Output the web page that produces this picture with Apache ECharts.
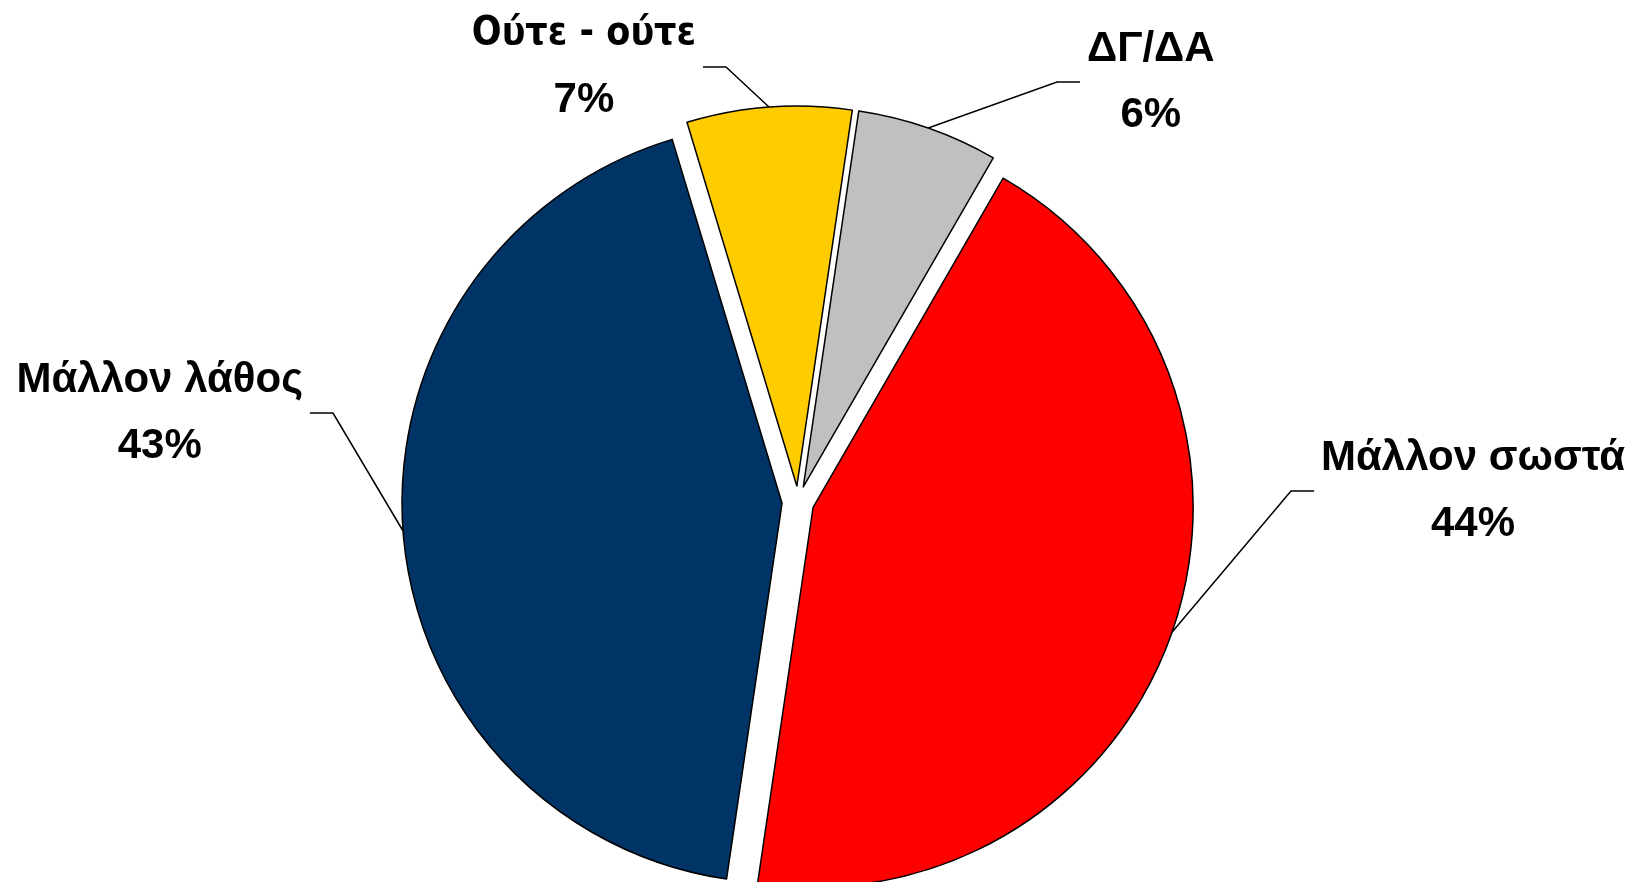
<!DOCTYPE html>
<html>
<head>
<meta charset="utf-8">
<script src="https://cdn.jsdelivr.net/npm/echarts@6/dist/echarts.min.js"></script>
<style>
  html, body { margin: 0; padding: 0; background: #fff; }
  #chart { width: 1637px; height: 882px; }
</style>
</head>
<body>
<div id="chart"></div>
<script>
const categories = ['Μάλλον σωστά', 'Μάλλον λάθος', 'Ούτε - ούτε', 'ΔΓ/ΔΑ'];
const shares = [44, 43, 7, 6];
const colors = ['#ff0000', '#003366', '#ffcc00', '#c0c0c0'];

// end of each leader line (x, y) and on which side of it the label sits
const labelSpots = [
  { x: 1314, y: 491, side: 'right' },
  { x: 310, y: 413, side: 'left' },
  { x: 703, y: 67, side: 'left' },
  { x: 1080, y: 82, side: 'right' }
];

const CENTER = [798, 502];
const RADIUS = 380;
const OFFSET = 16;
const textStyle = { fontFamily: "'Liberation Sans', Arial, sans-serif", fontSize: 42, fontWeight: 'bold', color: '#000', lineHeight: 66 };

const chart = echarts.init(document.getElementById('chart'));

const sliceData = categories.map((name, i) => ({
  name, value: shares[i], selected: true, itemStyle: { color: colors[i] }
}));

const labelData = categories.map((name, i) => {
  const item = { name, value: shares[i] };
  if (i === 2) {
    item.label = {
      rich: {
        n: Object.assign({}, textStyle, { fontFamily: "'DejaVu Sans Condensed', 'DejaVu Sans', sans-serif", fontSize: 39 }),
        v: textStyle
      }
    };
  }
  return item;
});

chart.setOption({
  backgroundColor: '#fff',
  animation: false,
  series: [{
    // the exploded slices
    type: 'pie',
    center: CENTER,
    radius: RADIUS,
    startAngle: 60,
    clockwise: true,
    selectedMode: 'multiple',
    selectedOffset: OFFSET,
    silent: true,
    itemStyle: { borderColor: '#000', borderWidth: 1.5 },
    label: { show: false },
    labelLine: { show: false },
    data: sliceData
  }, {
    // labels and leader lines, on an unexploded copy
    type: 'pie',
    center: CENTER,
    radius: RADIUS,
    startAngle: 60,
    clockwise: true,
    silent: true,
    avoidLabelOverlap: false,
    itemStyle: { color: 'rgba(0,0,0,0)', borderWidth: 0 },
    label: {
      show: true,
      position: 'outside',
      overflow: 'none',
      formatter: '{n|{b}}\n{v|{c}%}',
      rich: { n: textStyle, v: textStyle }
    },
    labelLine: { show: true, length: 20, length2: 20, lineStyle: { color: '#000', width: 1.5 } },
    labelLayout: (params) => {
      const spot = labelSpots[params.dataIndex];
      const w = params.labelRect.width;
      const pts = params.labelLinePoints;
      const sign = spot.side === 'right' ? 1 : -1;
      const cx = spot.x + sign * (7 + w / 2);
      const elbow = spot.x - sign * 23;
      // start the leader on the arc of the exploded slice
      const ddx = pts[1][0] - pts[0][0];
      const ddy = pts[1][1] - pts[0][1];
      const len = Math.hypot(ddx, ddy) || 1;
      const start = [pts[0][0] + ddx / len * OFFSET, pts[0][1] + ddy / len * OFFSET];
      return {
        x: cx,
        y: spot.y,
        align: 'center',
        verticalAlign: 'middle',
        labelLinePoints: [start, [elbow, spot.y], [spot.x, spot.y]]
      };
    },
    data: labelData
  }]
});
</script>
</body>
</html>
